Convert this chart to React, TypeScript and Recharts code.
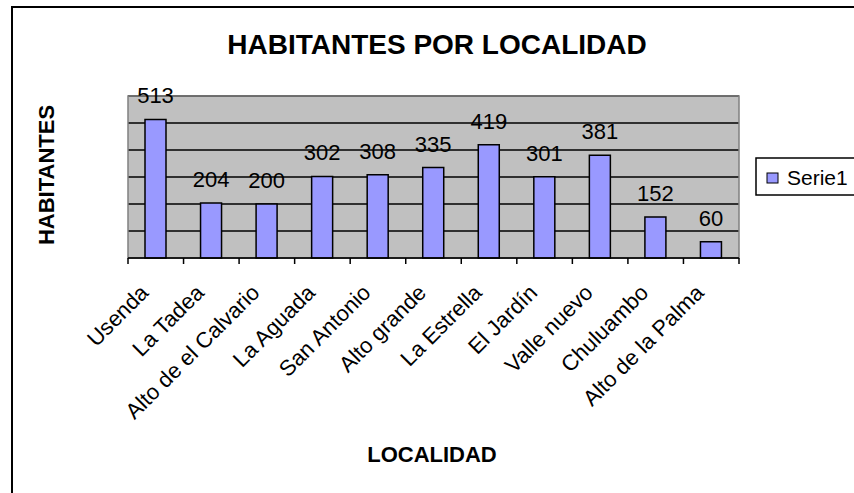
import React from 'react';
import {
  BarChart,
  Bar,
  XAxis,
  YAxis,
  CartesianGrid,
  ReferenceArea,
  LabelList,
} from 'recharts';

// values
const localidades = [
  'Usenda',
  'La Tadea',
  'Alto de el Calvario',
  'La Aguada',
  'San Antonio',
  'Alto grande',
  'La Estrella',
  'El Jardín',
  'Valle nuevo',
  'Chuluambo',
  'Alto de la Palma',
];
const habitantes = [513, 204, 200, 302, 308, 335, 419, 301, 381, 152, 60];
const yTicks = [0, 100, 200, 300, 400, 500, 600];
const seriesName = 'Serie1';

const data = localidades.map((name, i) => ({ name, value: habitantes[i] }));

const W = 854;
const H = 493;
const PLOT_LEFT = 128;
const PLOT_RIGHT = 739;
const PLOT_TOP = 96;
const PLOT_BOTTOM = 258;
const X_AXIS_H = 30;
const FONT = '"Liberation Sans", Arial, sans-serif';
const step = (PLOT_RIGHT - PLOT_LEFT) / localidades.length;

// category label rotated 45deg, plus the tick marks between categories
const CategoryTick = (props: any) => {
  const { x, payload } = props;
  const last = payload.index === localidades.length - 1;
  const tx = x - 6;
  const ty = PLOT_BOTTOM + 36;
  return (
    <g>
      <line x1={x - step / 2} x2={x - step / 2} y1={PLOT_BOTTOM} y2={PLOT_BOTTOM + 6} stroke="#000" strokeWidth={1.5} />
      {last && (
        <line x1={x + step / 2} x2={x + step / 2} y1={PLOT_BOTTOM} y2={PLOT_BOTTOM + 6} stroke="#000" strokeWidth={1.5} />
      )}
      <text
        x={tx}
        y={ty}
        textAnchor="end"
        transform={`rotate(-45, ${tx}, ${ty})`}
        fontSize={22}
        fontFamily={FONT}
        fill="#000"
      >
        {payload.value}
      </text>
    </g>
  );
};

export default function App() {
  return (
    <div
      style={{
        position: 'absolute',
        left: 0,
        top: 0,
        width: W,
        height: H,
        overflow: 'hidden',
        background: '#fff',
        fontFamily: FONT,
      }}
    >
      {/* chart frame, only left and top edges are visible in the picture */}
      <div
        style={{
          position: 'absolute',
          left: 11,
          top: 6,
          width: W,
          height: H,
          borderLeft: '2px solid #000',
          borderTop: '2px solid #000',
        }}
      />
      <div style={{ position: 'absolute', left: 0, top: 0 }}>
        <BarChart
          width={W}
          height={H}
          data={data}
          margin={{
            top: PLOT_TOP,
            right: W - PLOT_RIGHT,
            bottom: H - PLOT_BOTTOM - X_AXIS_H,
            left: PLOT_LEFT,
          }}
        >
          <CartesianGrid vertical={false} stroke="#000" strokeWidth={1.5} fill="#C0C0C0" fillOpacity={1} />
          <ReferenceArea y1={0} y2={600} fill="none" stroke="#808080" strokeWidth={1.5} ifOverflow="visible" />
          <XAxis
            dataKey="name"
            interval={0}
            height={X_AXIS_H}
            tickLine={false}
            axisLine={{ stroke: '#000', strokeWidth: 1.5 }}
            tick={<CategoryTick />}
          />
          <YAxis hide width={0} domain={[0, 600]} ticks={yTicks} />
          <Bar dataKey="value" fill="#9999FF" stroke="#000" strokeWidth={1.5} barSize={21} isAnimationActive={false}>
            <LabelList dataKey="value" position="top" offset={16} fontSize={22} fontFamily={FONT} fill="#000" />
          </Bar>
        </BarChart>
      </div>
      <svg
        width={W}
        height={H}
        style={{ position: 'absolute', left: 0, top: 0, pointerEvents: 'none' }}
      >
        <text x={437} y={54} textAnchor="middle" fontSize={28} fontWeight="bold" fontFamily={FONT} fill="#000">
          HABITANTES POR LOCALIDAD
        </text>
        <text x={432} y={462} textAnchor="middle" fontSize={22} fontWeight="bold" fontFamily={FONT} fill="#000">
          LOCALIDAD
        </text>
        <text
          x={54}
          y={175}
          textAnchor="middle"
          transform="rotate(-90, 54, 175)"
          fontSize={22}
          fontWeight="bold"
          fontFamily={FONT}
          fill="#000"
        >
          HABITANTES
        </text>
        {/* legend */}
        <rect x={756} y={158} width={110} height={37} fill="#fff" stroke="#000" strokeWidth={1.5} />
        <rect x={767} y={173} width={11} height={10} fill="#9999FF" stroke="#000" strokeWidth={1} />
        <text x={787} y={185} fontSize={21} fontFamily={FONT} fill="#000">
          {seriesName}
        </text>
      </svg>
    </div>
  );
}
